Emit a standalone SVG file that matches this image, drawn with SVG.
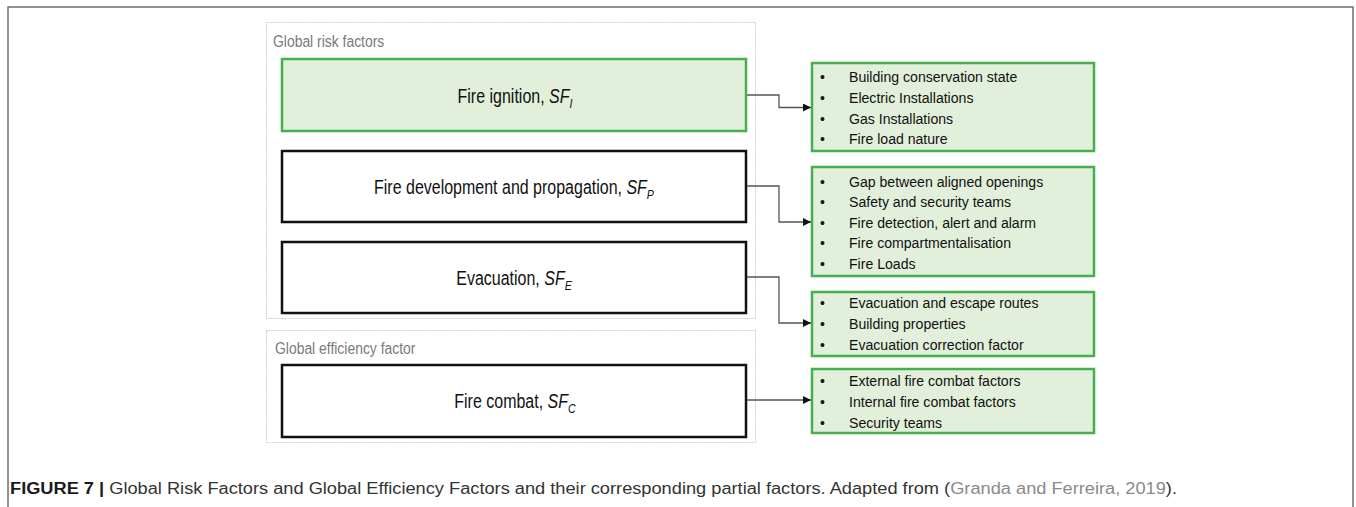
<svg xmlns="http://www.w3.org/2000/svg" width="1356" height="507" viewBox="0 0 1356 507">
<style>
.frame{fill:none;stroke:#6e6e6e;stroke-width:1.5}
.grp{fill:#fff;stroke:#cfcfcf;stroke-width:1;stroke-dasharray:2 1}
.glbl{font-family:"Liberation Sans",Arial,sans-serif;font-size:16px;fill:#7a7a7a}
.green{fill:#e2efda;stroke:#45b14e;stroke-width:2.5}
.black{fill:#fff;stroke:#111;stroke-width:2.5}
.main{font-family:"Liberation Sans",Arial,sans-serif;font-size:19.5px;fill:#111;text-anchor:middle}
.it{font-style:italic}
.sub{font-style:italic;font-size:13px}
.item{font-family:"Liberation Sans",Arial,sans-serif;font-size:15.5px;fill:#111}
.bul{font-family:"Liberation Sans",Arial,sans-serif;font-size:14px;fill:#111}
.conn{fill:none;stroke:#555;stroke-width:1.3}
.cap{font-family:"Liberation Sans",Arial,sans-serif;font-size:16px;fill:#333}
</style>
<defs>
<marker id="arr" markerWidth="8" markerHeight="8" refX="8" refY="4" orient="auto" markerUnits="userSpaceOnUse">
<path d="M0,0 L8,4 L0,8 Z" fill="#111"/>
</marker>
</defs>
<rect width="1356" height="507" fill="#fff"/>
<path class="frame" d="M8,507 V7 H1353 V507"/>

<g id="global-risk-factors">
<rect class="grp" x="266.5" y="22.5" width="489" height="296"/>
<text class="glbl" transform="translate(273,47) scale(0.87,1)">Global risk factors</text>
</g>
<g id="global-efficiency-factor">
<rect class="grp" x="266.5" y="330.5" width="489" height="112"/>
<text class="glbl" transform="translate(275,354) scale(0.87,1)">Global efficiency factor</text>
</g>

<g id="fire-ignition">
<rect class="green" x="282" y="59" width="464" height="72"/>
<text class="main" transform="translate(515,103) scale(0.82,1)">Fire ignition, <tspan class="it">SF</tspan><tspan class="sub" dy="5">I</tspan></text>
</g>
<g id="fire-development">
<rect class="black" x="282" y="151" width="464" height="71"/>
<text class="main" transform="translate(514,194) scale(0.82,1)">Fire development and propagation, <tspan class="it">SF</tspan><tspan class="sub" dy="5">P</tspan></text>
</g>
<g id="evacuation">
<rect class="black" x="282" y="242" width="464" height="71"/>
<text class="main" transform="translate(514,285) scale(0.82,1)">Evacuation, <tspan class="it">SF</tspan><tspan class="sub" dy="5">E</tspan></text>
</g>
<g id="fire-combat">
<rect class="black" x="282" y="365" width="464" height="72"/>
<text class="main" transform="translate(515,408) scale(0.82,1)">Fire combat, <tspan class="it">SF</tspan><tspan class="sub" dy="5">C</tspan></text>
</g>

<g id="ignition-factors">
<rect class="green" x="812" y="63" width="282" height="88"/>
<text class="bul" x="820" y="82">•</text><text class="item" transform="translate(849,82) scale(0.91,1)">Building conservation state</text>
<text class="bul" x="820" y="103">•</text><text class="item" transform="translate(849,103) scale(0.91,1)">Electric Installations</text>
<text class="bul" x="820" y="123.5">•</text><text class="item" transform="translate(849,123.5) scale(0.91,1)">Gas Installations</text>
<text class="bul" x="820" y="144">•</text><text class="item" transform="translate(849,144) scale(0.91,1)">Fire load nature</text>
</g>
<g id="development-factors">
<rect class="green" x="812" y="167" width="282" height="109"/>
<text class="bul" x="820" y="186.5">•</text><text class="item" transform="translate(849,186.5) scale(0.91,1)">Gap between aligned openings</text>
<text class="bul" x="820" y="207">•</text><text class="item" transform="translate(849,207) scale(0.91,1)">Safety and security teams</text>
<text class="bul" x="820" y="227.5">•</text><text class="item" transform="translate(849,227.5) scale(0.91,1)">Fire detection, alert and alarm</text>
<text class="bul" x="820" y="248">•</text><text class="item" transform="translate(849,248) scale(0.91,1)">Fire compartmentalisation</text>
<text class="bul" x="820" y="269">•</text><text class="item" transform="translate(849,269) scale(0.91,1)">Fire Loads</text>
</g>
<g id="evacuation-factors">
<rect class="green" x="812" y="292" width="282" height="64"/>
<text class="bul" x="820" y="308">•</text><text class="item" transform="translate(849,308) scale(0.91,1)">Evacuation and escape routes</text>
<text class="bul" x="820" y="329">•</text><text class="item" transform="translate(849,329) scale(0.91,1)">Building properties</text>
<text class="bul" x="820" y="350">•</text><text class="item" transform="translate(849,350) scale(0.91,1)">Evacuation correction factor</text>
</g>
<g id="combat-factors">
<rect class="green" x="812" y="369" width="282" height="64"/>
<text class="bul" x="820" y="386">•</text><text class="item" transform="translate(849,386) scale(0.91,1)">External fire combat factors</text>
<text class="bul" x="820" y="407">•</text><text class="item" transform="translate(849,407) scale(0.91,1)">Internal fire combat factors</text>
<text class="bul" x="820" y="428">•</text><text class="item" transform="translate(849,428) scale(0.91,1)">Security teams</text>
</g>

<g id="connectors">
<path class="conn" d="M747,95 H779 V107.5 H811" marker-end="url(#arr)"/>
<path class="conn" d="M747,186 H779 V222 H811" marker-end="url(#arr)"/>
<path class="conn" d="M747,277 H779 V323 H811" marker-end="url(#arr)"/>
<path class="conn" d="M747,400 H811" marker-end="url(#arr)"/>
</g>

<text class="cap" x="10" y="494" textLength="1167" lengthAdjust="spacingAndGlyphs"><tspan font-weight="bold" fill="#1a1a1a">FIGURE 7 |</tspan> Global Risk Factors and Global Efficiency Factors and their corresponding partial factors. Adapted from (<tspan fill="#8a8a8a">Granda and Ferreira, 2019</tspan>).</text>
</svg>
